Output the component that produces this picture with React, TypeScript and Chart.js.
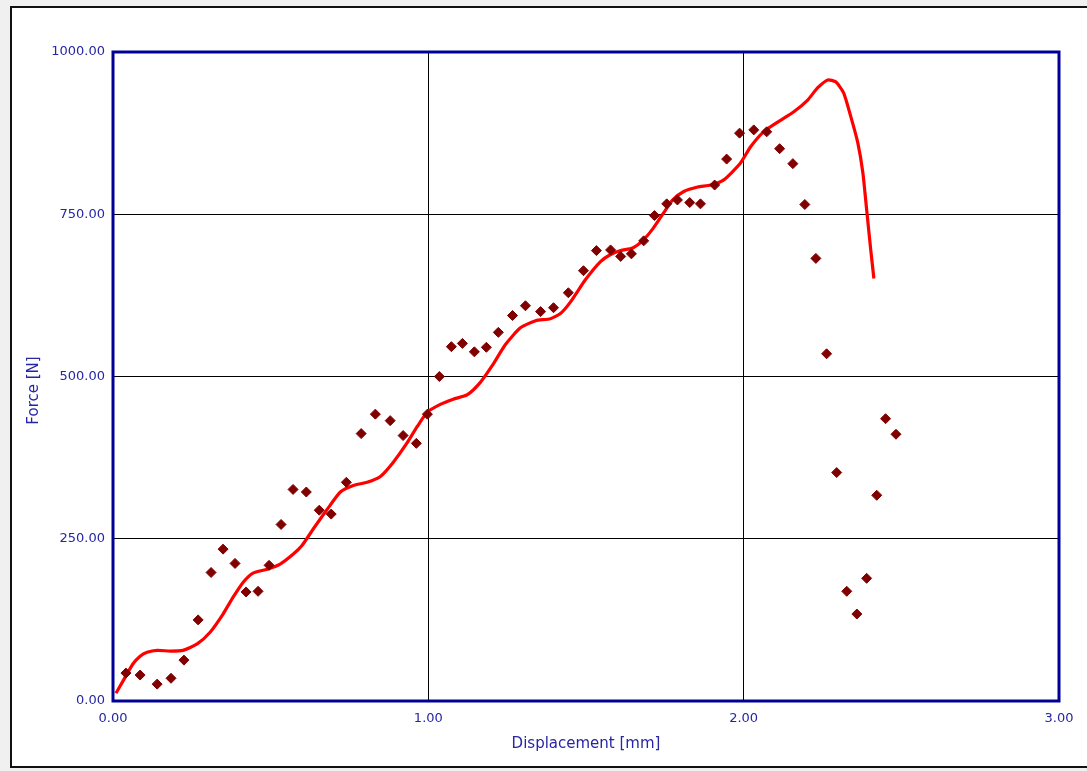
import React, { useEffect, useRef } from "react";
import { Chart, registerables } from "chart.js";

Chart.register(...registerables);

// Measured points (displacement in mm, force in N)
const pointDisp = [
  0.041, 0.086, 0.14, 0.184, 0.225, 0.27, 0.311, 0.349, 0.387, 0.422, 0.46, 0.495,
  0.533, 0.571, 0.613, 0.654, 0.692, 0.74, 0.787, 0.832, 0.879, 0.92, 0.962, 0.997,
  1.035, 1.073, 1.108, 1.146, 1.184, 1.222, 1.267, 1.308, 1.356, 1.397, 1.444, 1.492,
  1.533, 1.578, 1.61, 1.644, 1.683, 1.717, 1.756, 1.79, 1.829, 1.863, 1.908, 1.946,
  1.987, 2.032, 2.073, 2.114, 2.156, 2.194, 2.229, 2.263, 2.295, 2.327, 2.359, 2.39,
  2.422, 2.45, 2.483,
];
const pointForce = [
  43, 40, 26, 35, 63, 125, 198, 234, 212, 168, 169, 209,
  272, 326, 322, 294, 288, 337, 412, 442, 432, 409, 397, 442,
  500, 546, 551, 538, 545, 568, 594, 609, 600, 606, 629, 663,
  694, 695, 685, 689, 709, 748, 766, 772, 768, 766, 795, 835,
  875, 880, 877, 851, 828, 765, 682, 535, 352, 169, 134, 189,
  317, 435, 411,
];

// Fitted curve
const curveDisp = [
  0.0095, 0.032, 0.063, 0.086, 0.108, 0.14, 0.181, 0.222, 0.267, 0.308, 0.349, 0.381,
  0.413, 0.444, 0.489, 0.53, 0.571, 0.6, 0.635, 0.679, 0.721, 0.762, 0.806, 0.848,
  0.889, 0.933, 0.965, 0.997, 1.038, 1.079, 1.124, 1.165, 1.203, 1.244, 1.292, 1.34,
  1.387, 1.419, 1.451, 1.498, 1.546, 1.578, 1.61, 1.648, 1.683, 1.714, 1.746, 1.775,
  1.81, 1.854, 1.895, 1.937, 1.99, 2.022, 2.063, 2.108, 2.159, 2.203, 2.235, 2.267,
  2.292, 2.317, 2.34, 2.362, 2.378, 2.39, 2.403, 2.413,
];
const curveForce = [
  12, 31, 57, 69, 75, 78, 77, 78, 88, 106, 134, 160,
  183, 197, 203, 211, 226, 240, 265, 295, 322, 332, 337, 346,
  368, 398, 423, 445, 457, 465, 472, 491, 517, 549, 575, 586,
  589, 597, 615, 649, 677, 688, 694, 698, 711, 729, 752, 772,
  785, 792, 795, 803, 829, 854, 877, 892, 908, 926, 945, 957,
  954, 937, 900, 860, 814, 757, 695, 651,
];

const xTickValues = [0, 1, 2, 3];
const yTickValues = [0, 250, 500, 750, 1000];
const xTitle = "Displacement [mm]";
const yTitle = "Force [N]";

const axisBlue = "#2626a4";
const FONT = "'DejaVu Sans', Verdana, sans-serif";

const frameBorder = {
  id: "frameBorder",
  afterDraw(chart: any) {
    const { ctx, chartArea } = chart;
    ctx.save();
    ctx.strokeStyle = "#000096";
    ctx.lineWidth = 3;
    ctx.strokeRect(
      chartArea.left,
      chartArea.top,
      chartArea.right - chartArea.left,
      chartArea.bottom - chartArea.top
    );
    // y-axis title, drawn slightly below the plot's middle as in the source
    ctx.translate(34, (chartArea.top + chartArea.bottom) / 2 + 14);
    ctx.rotate(-Math.PI / 2);
    ctx.fillStyle = axisBlue;
    ctx.font = `15px ${FONT}`;
    ctx.textAlign = "center";
    ctx.textBaseline = "middle";
    ctx.fillText(yTitle, 0, 0);
    ctx.restore();
  },
};

export default function App() {
  const ref = useRef<HTMLCanvasElement | null>(null);

  useEffect(() => {
    if (!ref.current) return;
    const chart = new Chart(ref.current, {
      type: "scatter",
      data: {
        datasets: [
          {
            label: "Points",
            data: pointDisp.map((x, i) => ({ x, y: pointForce[i] })),
            pointStyle: "rectRot",
            pointRadius: 5,
            pointBackgroundColor: "#800000",
            pointBorderColor: "#800000",
            pointBorderWidth: 1,
            showLine: false,
            order: 0,
          },
          {
            label: "Curve",
            data: curveDisp.map((x, i) => ({ x, y: curveForce[i] })),
            showLine: true,
            borderColor: "#ff0000",
            borderWidth: 3.2,
            pointRadius: 0,
            tension: 0.2,
            order: 1,
          },
        ],
      },
      options: {
        animation: false,
        responsive: false,
        layout: { padding: { left: 0, top: 52, right: 28, bottom: 0 } },
        plugins: {
          legend: { display: false },
          tooltip: { enabled: false },
        },
        scales: {
          x: {
            type: "linear",
            min: 0,
            max: 3,
            afterFit: (s: any) => {
              s.height = 70;
            },
            afterBuildTicks: (s: any) => {
              s.ticks = xTickValues.map((v) => ({ value: v }));
            },
            ticks: {
              color: axisBlue,
              font: { family: FONT, size: 13 },
              padding: 10,
              maxRotation: 0,
              callback: (v: any) => Number(v).toFixed(2),
            },
            grid: { color: "#000", lineWidth: 1, drawTicks: false },
            border: { display: false },
            title: {
              display: true,
              text: xTitle,
              color: axisBlue,
              font: { family: FONT, size: 15 },
              padding: { top: 0, bottom: 18 },
            },
          },
          y: {
            type: "linear",
            min: 0,
            max: 1000,
            afterFit: (s: any) => {
              s.width = 113;
            },
            afterBuildTicks: (s: any) => {
              s.ticks = yTickValues.map((v) => ({ value: v }));
            },
            ticks: {
              color: axisBlue,
              font: { family: FONT, size: 13 },
              padding: 8,
              callback: (v: any) => Number(v).toFixed(2),
            },
            grid: { color: "#000", lineWidth: 1, drawTicks: false },
            border: { display: false },
            title: { display: false },
          },
        },
      },
      plugins: [frameBorder],
    });
    return () => chart.destroy();
  }, []);

  return (
    <div
      style={{
        position: "fixed",
        left: 0,
        top: 0,
        width: 1087,
        height: 771,
        background: "#f0f0f0",
        overflow: "hidden",
      }}
    >
      <div
        style={{
          position: "absolute",
          left: 10,
          top: 6,
          width: 1100,
          height: 758,
          background: "#ffffff",
          border: "2px solid #111",
        }}
      />
      <canvas
        ref={ref}
        width={1087}
        height={771}
        style={{ position: "absolute", left: 0, top: 0, width: 1087, height: 771 }}
      />
    </div>
  );
}
